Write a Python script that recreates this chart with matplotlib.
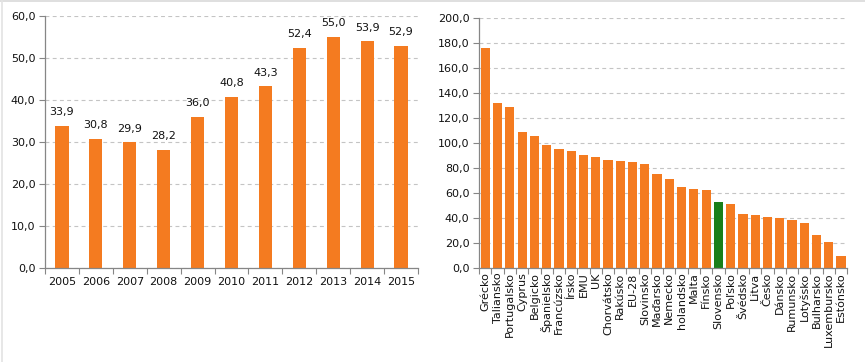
import matplotlib
matplotlib.use("Agg")
import matplotlib.pyplot as plt
from matplotlib.lines import Line2D
import numpy as np

# ===== data
years = ["2005", "2006", "2007", "2008", "2009", "2010",
         "2011", "2012", "2013", "2014", "2015"]
debt_sk = [33.9, 30.8, 29.9, 28.2, 36.0, 40.8, 43.3, 52.4, 55.0, 53.9, 52.9]

countries = ["Grécko", "Taliansko", "Portugalsko", "Cyprus", "Belgicko",
             "Španielsko", "Francúzsko", "Írsko", "EMU", "UK", "Chorvátsko",
             "Rakúsko", "EU-28", "Slovinsko", "Maďarsko", "Nemecko",
             "holandsko", "Malta", "Fínsko", "Slovensko", "Poľsko", "Švédsko",
             "Litva", "Česko", "Dánsko", "Rumunsko", "Lotyšsko", "Bulharsko",
             "Luxembursko", "Estónsko"]
debt_eu = [176.5, 132.2, 129.0, 109.0, 105.8, 98.9, 95.4, 93.8, 90.6, 89.3,
           86.6, 85.8, 85.0, 83.4, 75.4, 71.4, 65.0, 63.4, 62.6, 53.0, 51.4,
           43.7, 42.6, 41.0, 40.2, 38.6, 36.5, 26.6, 21.0, 9.8]
highlight = "Slovensko"

# ===== style
ORANGE = "#F47B20"
GREEN = "#1A7F1A"
AXIS = "#868686"
GRID = "#C4C4C4"
TXT = "#111111"
FS = 8.0
plt.rcParams['font.family'] = ['DejaVu Sans']


def fmt(v):
    return f"{v:.1f}".replace(".", ",")


def style_axes(ax, ymax, step, ncat):
    ax.set_xlim(-0.5, ncat - 0.5)
    ax.set_ylim(0, ymax)
    ticks = np.arange(0, ymax + step / 2, step)
    ax.set_yticks(ticks)
    ax.set_yticklabels([fmt(t) for t in ticks], fontsize=FS, color=TXT)
    ax.yaxis.grid(True, color=GRID, linestyle=(0, (3.5, 3)), linewidth=0.8)
    ax.set_axisbelow(True)
    for s in ["top", "right"]:
        ax.spines[s].set_visible(False)
    for s in ["left", "bottom"]:
        ax.spines[s].set_color(AXIS)
        ax.spines[s].set_linewidth(0.9)
    ax.tick_params(axis="y", length=4, width=0.8, color=AXIS, pad=3)
    # category ticks sit between bars
    ax.set_xticks(np.arange(ncat), minor=False)
    ax.set_xticks(np.arange(-0.5, ncat, 1.0), minor=True)
    ax.tick_params(axis="x", which="major", length=0, pad=6)
    ax.tick_params(axis="x", which="minor", length=4, width=0.8, color=AXIS)


fig = plt.figure(figsize=(8.65, 3.62), dpi=100)

# ===== left: Slovensko 2005-2015
ax1 = fig.add_axes([45 / 865, 1 - 268.3 / 362, 373 / 865, 252.6 / 362])
x1 = np.arange(len(years))
ax1.bar(x1, debt_sk, width=0.39, color=ORANGE, zorder=2)
style_axes(ax1, 60, 10, len(years))
ax1.set_xticklabels(years, fontsize=FS, color=TXT)
for xi, v in zip(x1, debt_sk):
    ax1.annotate(fmt(v), (xi, v), xytext=(0, 6), textcoords="offset points",
                 ha="center", va="bottom", fontsize=FS, color=TXT)

# ===== right: EU countries
ax2 = fig.add_axes([479.2 / 865, 1 - 268.3 / 362, 368 / 865, 250 / 362])
x2 = np.arange(len(countries))
colors = [GREEN if c == highlight else ORANGE for c in countries]
ax2.bar(x2, debt_eu, width=0.75, color=colors, zorder=2)
style_axes(ax2, 200, 20, len(countries))
ax2.set_xticklabels(countries, rotation=90, fontsize=FS, color=TXT)
ax2.tick_params(axis="x", which="major", pad=3)

# ===== panel frames
fig.add_artist(Line2D([0, 1], [1 - 1 / 362, 1 - 1 / 362], color="#D9D9D9",
                      linewidth=1.2, transform=fig.transFigure))
fig.add_artist(Line2D([1.5 / 865, 1.5 / 865], [0, 1], color="#E3E3E3",
                      linewidth=1.2, transform=fig.transFigure))

fig.savefig("out.png", dpi=100)
